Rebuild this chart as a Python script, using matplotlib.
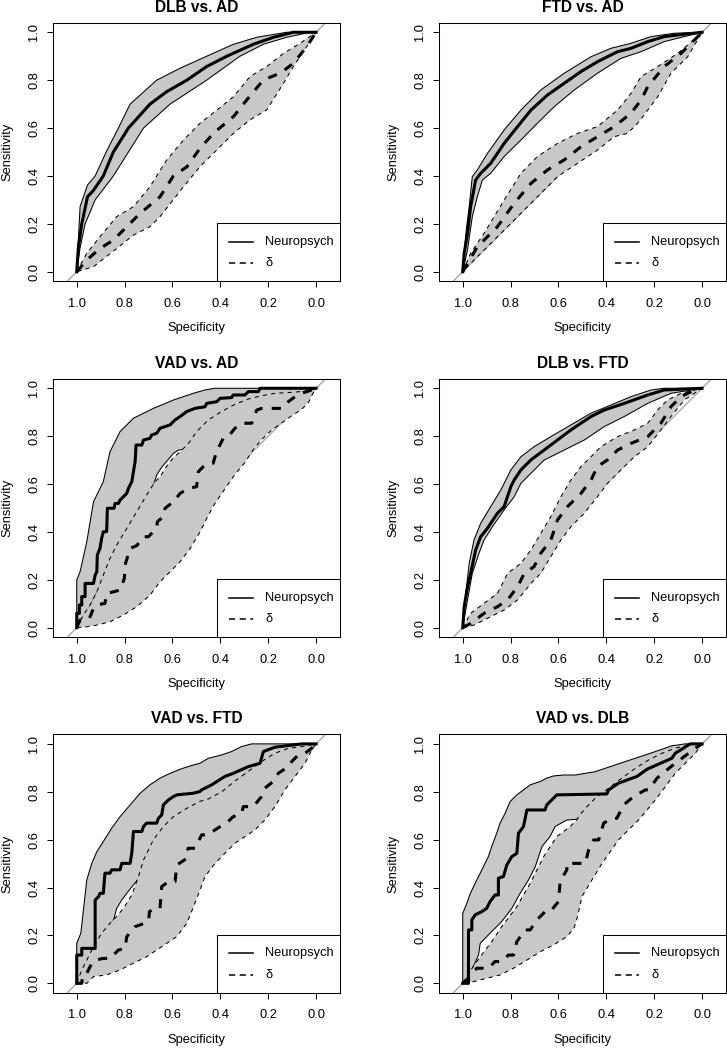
import numpy as np
import matplotlib.pyplot as plt
from matplotlib.patches import Polygon, Rectangle

plt.rcParams['font.family'] = ['Liberation Sans', 'DejaVu Sans']

# curves are (specificity, sensitivity) pairs
titles = ["DLB vs. AD", "FTD vs. AD", "VAD vs. AD", "DLB vs. FTD", "VAD vs. FTD", "VAD vs. DLB"]
legend_labels = ["Neuropsych", "\u03b4"]
tick_values = [1.0, 0.8, 0.6, 0.4, 0.2, 0.0]

# DLB vs. AD
dlb_ad_neuro = [(1.0, 0.0), (0.993, 0.104), (0.979, 0.20), (0.955, 0.313), (0.930, 0.34), (0.889, 0.40), (0.847, 0.50),
                (0.784, 0.60), (0.694, 0.70), (0.624, 0.752), (0.540, 0.80), (0.457, 0.857), (0.373, 0.90), (0.262, 0.95),
                (0.178, 0.979), (0.095, 1.0), (0.0, 1.0)]
dlb_ad_neuro_hi = [(1.0, 0.0), (0.986, 0.272), (0.955, 0.362), (0.923, 0.40), (0.877, 0.50), (0.826, 0.60), (0.777, 0.70),
                   (0.666, 0.80), (0.568, 0.85), (0.457, 0.90), (0.345, 0.95), (0.248, 0.979), (0.123, 1.0), (0.0, 1.0)]
dlb_ad_neuro_lo = [(1.0, 0.0), (0.986, 0.10), (0.965, 0.20), (0.923, 0.30), (0.847, 0.40), (0.784, 0.50), (0.721, 0.60),
                   (0.610, 0.70), (0.457, 0.80), (0.318, 0.90), (0.220, 0.95), (0.123, 0.979), (0.025, 1.0), (0.0, 1.0)]
dlb_ad_delta = [(1.0, 0.0), (0.958, 0.049), (0.903, 0.097), (0.847, 0.132), (0.791, 0.188), (0.735, 0.244), (0.652, 0.313),
                (0.596, 0.40), (0.540, 0.438), (0.485, 0.515), (0.429, 0.578), (0.345, 0.648), (0.290, 0.717), (0.220, 0.801),
                (0.150, 0.829), (0.095, 0.870), (0.039, 0.940), (0.0, 1.0)]
dlb_ad_delta_hi = [(1.0, 0.0), (0.958, 0.077), (0.903, 0.146), (0.833, 0.230), (0.763, 0.272), (0.694, 0.355), (0.624, 0.467),
                   (0.554, 0.550), (0.485, 0.620), (0.415, 0.675), (0.345, 0.731), (0.276, 0.815), (0.206, 0.857),
                   (0.136, 0.912), (0.067, 0.954), (0.0, 1.0)]
dlb_ad_delta_lo = [(1.0, 0.0), (0.930, 0.021), (0.833, 0.097), (0.763, 0.153), (0.694, 0.188), (0.652, 0.230), (0.554, 0.355),
                   (0.485, 0.439), (0.415, 0.508), (0.345, 0.578), (0.276, 0.634), (0.206, 0.676), (0.136, 0.787),
                   (0.095, 0.857), (0.039, 0.940), (0.0, 1.0)]

# FTD vs. AD
ftd_ad_neuro = [(1.0, 0.0), (0.994, 0.077), (0.980, 0.160), (0.967, 0.272), (0.946, 0.383), (0.925, 0.411), (0.883, 0.453),
                (0.827, 0.536), (0.771, 0.606), (0.715, 0.675), (0.646, 0.738), (0.576, 0.787), (0.506, 0.836), (0.437, 0.877),
                (0.353, 0.919), (0.297, 0.933), (0.227, 0.961), (0.158, 0.982), (0.074, 0.992), (0.0, 1.0)]
ftd_ad_neuro_hi = [(1.0, 0.0), (0.987, 0.160), (0.973, 0.272), (0.960, 0.397), (0.939, 0.425), (0.897, 0.494), (0.827, 0.592),
                   (0.757, 0.675), (0.674, 0.759), (0.576, 0.829), (0.464, 0.898), (0.381, 0.933), (0.297, 0.954),
                   (0.213, 0.982), (0.116, 0.996), (0.0, 1.0)]
ftd_ad_neuro_lo = [(1.0, 0.0), (0.980, 0.091), (0.960, 0.230), (0.939, 0.313), (0.918, 0.383), (0.883, 0.411), (0.827, 0.481),
                   (0.757, 0.550), (0.688, 0.620), (0.618, 0.689), (0.534, 0.759), (0.437, 0.829), (0.339, 0.891),
                   (0.255, 0.919), (0.158, 0.961), (0.074, 0.982), (0.0, 1.0)]
ftd_ad_delta = [(1.0, 0.0), (0.980, 0.035), (0.939, 0.104), (0.855, 0.188), (0.785, 0.286), (0.715, 0.369), (0.646, 0.425),
                (0.576, 0.467), (0.506, 0.522), (0.437, 0.564), (0.367, 0.606), (0.297, 0.662), (0.255, 0.717), (0.227, 0.773),
                (0.158, 0.857), (0.088, 0.912), (0.018, 0.982), (0.0, 1.0)]
ftd_ad_delta_hi = [(1.0, 0.0), (0.967, 0.077), (0.911, 0.160), (0.827, 0.299), (0.757, 0.411), (0.688, 0.481), (0.604, 0.536),
                   (0.520, 0.578), (0.437, 0.606), (0.353, 0.675), (0.297, 0.745), (0.255, 0.815), (0.185, 0.857),
                   (0.102, 0.912), (0.018, 0.982), (0.0, 1.0)]
ftd_ad_delta_lo = [(1.0, 0.0), (0.953, 0.049), (0.883, 0.118), (0.813, 0.188), (0.743, 0.258), (0.674, 0.327), (0.604, 0.397),
                   (0.520, 0.453), (0.437, 0.508), (0.367, 0.564), (0.311, 0.578), (0.269, 0.620), (0.227, 0.675),
                   (0.185, 0.731), (0.130, 0.829), (0.060, 0.898), (0.0, 1.0)]

# VAD vs. AD
vad_ad_neuro = [(1.0, 0.0), (1.0, 0.060), (0.989, 0.060), (0.989, 0.095), (0.979, 0.095), (0.979, 0.130), (0.965, 0.130),
                (0.965, 0.185), (0.930, 0.185), (0.923, 0.220), (0.916, 0.234), (0.914, 0.304), (0.903, 0.331), (0.896, 0.373),
                (0.889, 0.401), (0.875, 0.401), (0.872, 0.499), (0.844, 0.499), (0.840, 0.519), (0.826, 0.519), (0.819, 0.533),
                (0.791, 0.561), (0.784, 0.582), (0.770, 0.610), (0.756, 0.694), (0.752, 0.763), (0.728, 0.763), (0.721, 0.784),
                (0.694, 0.791), (0.687, 0.805), (0.666, 0.812), (0.652, 0.833), (0.610, 0.847), (0.589, 0.868), (0.568, 0.882),
                (0.540, 0.903), (0.506, 0.916), (0.464, 0.923), (0.457, 0.937), (0.415, 0.944), (0.401, 0.958), (0.353, 0.961),
                (0.346, 0.972), (0.297, 0.972), (0.283, 0.986), (0.241, 0.986), (0.234, 1.0), (0.0, 1.0)]
vad_ad_neuro_hi = [(1.0, 0.0), (1.0, 0.199), (0.986, 0.234), (0.958, 0.359), (0.930, 0.526), (0.889, 0.610), (0.861, 0.735),
                   (0.819, 0.819), (0.763, 0.875), (0.680, 0.916), (0.596, 0.951), (0.513, 0.979), (0.464, 0.993),
                   (0.422, 1.0), (0.0, 1.0)]
vad_ad_neuro_lo = [(1.0, 0.0), (0.95, 0.08), (0.90, 0.18), (0.85, 0.30), (0.80, 0.39), (0.75, 0.47), (0.70, 0.55), (0.68, 0.595),
                   (0.665, 0.64), (0.645, 0.67), (0.620, 0.70), (0.596, 0.728), (0.575, 0.742), (0.55, 0.745), (0.50, 0.80),
                   (0.45, 0.85), (0.35, 0.91), (0.25, 0.95), (0.15, 0.97), (0.05, 0.985), (0.0, 1.0)]
vad_ad_delta = [(1.0, 0.0), (0.986, 0.032), (0.947, 0.039), (0.930, 0.081), (0.916, 0.095), (0.882, 0.102), (0.875, 0.143),
                (0.819, 0.157), (0.801, 0.206), (0.798, 0.262), (0.777, 0.331), (0.749, 0.343), (0.721, 0.380), (0.701, 0.380),
                (0.666, 0.415), (0.663, 0.443), (0.638, 0.464), (0.631, 0.499), (0.596, 0.526), (0.568, 0.561), (0.533, 0.582),
                (0.499, 0.589), (0.492, 0.652), (0.464, 0.680), (0.430, 0.687), (0.416, 0.735), (0.388, 0.791), (0.367, 0.798),
                (0.339, 0.833), (0.311, 0.854), (0.269, 0.854), (0.248, 0.909), (0.228, 0.916), (0.144, 0.916), (0.116, 0.944),
                (0.088, 0.965), (0.060, 0.979), (0.018, 0.993), (0.0, 1.0)]
vad_ad_delta_hi = [(1.0, 0.0), (0.972, 0.053), (0.944, 0.095), (0.916, 0.150), (0.889, 0.220), (0.861, 0.290), (0.833, 0.345),
                   (0.791, 0.415), (0.749, 0.485), (0.708, 0.554), (0.673, 0.610), (0.652, 0.630), (0.624, 0.675),
                   (0.596, 0.710), (0.568, 0.735), (0.533, 0.770), (0.499, 0.819), (0.450, 0.868), (0.395, 0.903),
                   (0.339, 0.933), (0.283, 0.955), (0.228, 0.969), (0.172, 0.979), (0.102, 0.983), (0.032, 0.989), (0.0, 1.0)]
vad_ad_delta_lo = [(1.0, 0.0), (0.958, 0.004), (0.916, 0.011), (0.861, 0.025), (0.805, 0.053), (0.749, 0.088), (0.694, 0.136),
                   (0.652, 0.192), (0.610, 0.234), (0.568, 0.276), (0.526, 0.331), (0.485, 0.40), (0.450, 0.47), (0.422, 0.52),
                   (0.381, 0.58), (0.339, 0.64), (0.297, 0.69), (0.262, 0.745), (0.228, 0.785), (0.186, 0.825),
                   (0.144, 0.855), (0.102, 0.885), (0.060, 0.912), (0.032, 0.94), (0.018, 0.97), (0.0, 1.0)]

# DLB vs. FTD
dlb_ftd_neuro = [(1.0, 0.0), (0.994, 0.088), (0.980, 0.171), (0.967, 0.227), (0.946, 0.325), (0.925, 0.380), (0.897, 0.415),
                 (0.855, 0.478), (0.827, 0.506), (0.799, 0.589), (0.785, 0.617), (0.757, 0.659), (0.715, 0.701), (0.660, 0.742),
                 (0.604, 0.784), (0.548, 0.826), (0.464, 0.882), (0.409, 0.909), (0.325, 0.937), (0.227, 0.972),
                 (0.158, 0.993), (0.0, 1.0)]
dlb_ftd_neuro_hi = [(1.0, 0.0), (0.987, 0.143), (0.973, 0.269), (0.953, 0.366), (0.925, 0.436), (0.883, 0.506), (0.841, 0.575),
                    (0.799, 0.659), (0.757, 0.714), (0.702, 0.756), (0.632, 0.798), (0.548, 0.847), (0.464, 0.896),
                    (0.381, 0.930), (0.297, 0.965), (0.213, 0.993), (0.158, 1.0), (0.0, 1.0)]
dlb_ftd_neuro_lo = [(1.0, 0.0), (0.980, 0.116), (0.960, 0.227), (0.932, 0.311), (0.911, 0.366), (0.876, 0.422), (0.827, 0.492),
                    (0.785, 0.547), (0.757, 0.603), (0.715, 0.645), (0.660, 0.700), (0.576, 0.742), (0.492, 0.784),
                    (0.409, 0.840), (0.325, 0.882), (0.227, 0.937), (0.130, 0.979), (0.0, 1.0)]
dlb_ftd_delta = [(1.0, 0.0), (0.967, 0.018), (0.911, 0.060), (0.855, 0.088), (0.813, 0.116), (0.771, 0.171), (0.743, 0.227),
                 (0.702, 0.255), (0.674, 0.311), (0.632, 0.366), (0.604, 0.450), (0.562, 0.506), (0.506, 0.561), (0.464, 0.617),
                 (0.437, 0.673), (0.395, 0.701), (0.353, 0.742), (0.297, 0.770), (0.227, 0.798), (0.172, 0.854),
                 (0.130, 0.923), (0.088, 0.965), (0.032, 0.993), (0.0, 1.0)]
dlb_ftd_delta_hi = [(1.0, 0.0), (0.967, 0.060), (0.911, 0.102), (0.855, 0.143), (0.813, 0.227), (0.757, 0.269), (0.715, 0.325),
                    (0.674, 0.394), (0.632, 0.464), (0.590, 0.547), (0.548, 0.617), (0.506, 0.673), (0.464, 0.714),
                    (0.423, 0.756), (0.353, 0.798), (0.283, 0.826), (0.227, 0.854), (0.186, 0.909), (0.144, 0.951),
                    (0.088, 0.979), (0.0, 1.0)]
dlb_ftd_delta_lo = [(1.0, 0.0), (0.953, 0.011), (0.883, 0.046), (0.827, 0.074), (0.771, 0.116), (0.715, 0.185), (0.674, 0.227),
                    (0.632, 0.297), (0.590, 0.366), (0.548, 0.422), (0.492, 0.478), (0.437, 0.547), (0.395, 0.603),
                    (0.339, 0.659), (0.283, 0.714), (0.227, 0.756), (0.172, 0.826), (0.130, 0.882), (0.074, 0.951), (0.0, 1.0)]

# VAD vs. FTD
vad_ftd_neuro = [(1.0, 0.0), (1.0, 0.118), (0.979, 0.118), (0.979, 0.146), (0.923, 0.146), (0.923, 0.348), (0.909, 0.362),
                 (0.903, 0.376), (0.889, 0.376), (0.882, 0.460), (0.861, 0.460), (0.854, 0.474), (0.819, 0.474), (0.812, 0.501),
                 (0.777, 0.501), (0.770, 0.543), (0.763, 0.634), (0.728, 0.634), (0.721, 0.655), (0.708, 0.669), (0.666, 0.669),
                 (0.659, 0.689), (0.645, 0.703), (0.638, 0.745), (0.617, 0.766), (0.596, 0.780), (0.582, 0.787), (0.513, 0.794),
                 (0.485, 0.801), (0.478, 0.808), (0.436, 0.829), (0.381, 0.864), (0.346, 0.877), (0.283, 0.905),
                 (0.234, 0.919), (0.220, 0.968), (0.172, 0.986), (0.116, 0.993), (0.060, 1.0), (0.0, 1.0)]
vad_ftd_neuro_hi = [(1.0, 0.0), (1.0, 0.167), (0.983, 0.209), (0.969, 0.334), (0.958, 0.432), (0.937, 0.501), (0.916, 0.550),
                    (0.889, 0.592), (0.854, 0.648), (0.819, 0.696), (0.777, 0.745), (0.735, 0.794), (0.694, 0.829),
                    (0.652, 0.857), (0.610, 0.877), (0.568, 0.894), (0.526, 0.908), (0.485, 0.919), (0.450, 0.940),
                    (0.394, 0.954), (0.353, 0.968), (0.311, 0.989), (0.269, 1.0), (0.0, 1.0)]
vad_ftd_neuro_lo = [(1.0, 0.0), (0.97, 0.05), (0.93, 0.13), (0.89, 0.19), (0.86, 0.24), (0.844, 0.272), (0.833, 0.313),
                    (0.812, 0.348), (0.784, 0.385), (0.756, 0.42), (0.738, 0.44), (0.70, 0.53), (0.65, 0.63), (0.60, 0.68),
                    (0.50, 0.74), (0.40, 0.79), (0.30, 0.87), (0.20, 0.93), (0.10, 0.97), (0.0, 1.0)]
vad_ftd_delta = [(1.0, 0.0), (0.979, 0.0), (0.975, 0.035), (0.958, 0.042), (0.937, 0.084), (0.923, 0.097), (0.889, 0.104),
                 (0.861, 0.104), (0.826, 0.139), (0.798, 0.146), (0.791, 0.195), (0.756, 0.237), (0.735, 0.244), (0.700, 0.258),
                 (0.696, 0.300), (0.673, 0.313), (0.652, 0.313), (0.645, 0.404), (0.617, 0.425), (0.589, 0.425), (0.582, 0.494),
                 (0.540, 0.522), (0.535, 0.564), (0.506, 0.564), (0.478, 0.620), (0.450, 0.620), (0.422, 0.641), (0.367, 0.676),
                 (0.346, 0.696), (0.311, 0.710), (0.304, 0.738), (0.262, 0.738), (0.228, 0.780), (0.214, 0.815),
                 (0.179, 0.843), (0.158, 0.877), (0.116, 0.905), (0.102, 0.926), (0.074, 0.954), (0.046, 0.961),
                 (0.018, 0.982), (0.0, 1.0)]
vad_ftd_delta_hi = [(1.0, 0.0), (0.979, 0.056), (0.958, 0.097), (0.930, 0.153), (0.896, 0.209), (0.861, 0.251), (0.840, 0.272),
                    (0.805, 0.313), (0.770, 0.369), (0.742, 0.446), (0.721, 0.515), (0.680, 0.599), (0.638, 0.655),
                    (0.596, 0.696), (0.540, 0.731), (0.485, 0.760), (0.450, 0.770), (0.394, 0.800), (0.339, 0.845),
                    (0.283, 0.885), (0.228, 0.926), (0.172, 0.961), (0.116, 0.981), (0.046, 0.991), (0.0, 1.0)]
vad_ftd_delta_lo = [(1.0, 0.0), (0.958, 0.0), (0.930, 0.028), (0.875, 0.035), (0.819, 0.056), (0.763, 0.084), (0.708, 0.111),
                    (0.666, 0.139), (0.624, 0.167), (0.582, 0.195), (0.540, 0.251), (0.520, 0.30), (0.485, 0.39),
                    (0.464, 0.446), (0.422, 0.501), (0.381, 0.543), (0.339, 0.585), (0.297, 0.613), (0.255, 0.641),
                    (0.214, 0.682), (0.172, 0.738), (0.130, 0.808), (0.088, 0.864), (0.046, 0.919), (0.018, 0.975), (0.0, 1.0)]

# VAD vs. DLB
vad_dlb_neuro = [(1.0, 0.0), (0.976, 0.0), (0.976, 0.223), (0.962, 0.223), (0.962, 0.265), (0.948, 0.286), (0.921, 0.299),
                 (0.900, 0.313), (0.886, 0.341), (0.865, 0.369), (0.851, 0.369), (0.851, 0.439), (0.830, 0.446), (0.816, 0.494),
                 (0.795, 0.529), (0.774, 0.543), (0.767, 0.627), (0.746, 0.655), (0.732, 0.724), (0.656, 0.724), (0.649, 0.745),
                 (0.628, 0.766), (0.607, 0.787), (0.398, 0.791), (0.390, 0.808), (0.349, 0.836), (0.272, 0.864),
                 (0.230, 0.894), (0.167, 0.922), (0.126, 0.940), (0.112, 0.961), (0.084, 0.978), (0.063, 0.992),
                 (0.049, 1.0), (0.0, 1.0)]
vad_dlb_neuro_hi = [(1.0, 0.0), (1.0, 0.292), (0.983, 0.334), (0.968, 0.376), (0.948, 0.418), (0.927, 0.460), (0.893, 0.529),
                    (0.879, 0.571), (0.858, 0.627), (0.844, 0.669), (0.823, 0.710), (0.802, 0.759), (0.774, 0.787),
                    (0.746, 0.808), (0.718, 0.829), (0.676, 0.843), (0.649, 0.857), (0.621, 0.866), (0.579, 0.870),
                    (0.530, 0.870), (0.446, 0.884), (0.363, 0.912), (0.279, 0.940), (0.195, 0.968), (0.126, 0.992),
                    (0.070, 1.0), (0.0, 1.0)]
vad_dlb_neuro_lo = [(1.0, 0.0), (0.965, 0.05), (0.934, 0.118), (0.927, 0.167), (0.886, 0.209), (0.837, 0.258), (0.795, 0.313),
                    (0.760, 0.376), (0.725, 0.432), (0.697, 0.487), (0.669, 0.571), (0.635, 0.613), (0.614, 0.655),
                    (0.565, 0.682), (0.523, 0.685), (0.50, 0.70), (0.45, 0.75), (0.35, 0.82), (0.25, 0.89), (0.15, 0.95),
                    (0.05, 0.99), (0.0, 1.0)]
vad_dlb_delta = [(1.0, 0.0), (0.976, 0.021), (0.962, 0.042), (0.941, 0.063), (0.893, 0.063), (0.865, 0.091), (0.837, 0.091),
                 (0.809, 0.118), (0.788, 0.118), (0.774, 0.174), (0.739, 0.223), (0.718, 0.223), (0.690, 0.265), (0.656, 0.299),
                 (0.635, 0.299), (0.600, 0.341), (0.593, 0.425), (0.565, 0.474), (0.565, 0.501), (0.488, 0.501), (0.474, 0.557),
                 (0.453, 0.599), (0.432, 0.599), (0.411, 0.669), (0.377, 0.689), (0.356, 0.689), (0.328, 0.745),
                 (0.286, 0.780), (0.237, 0.808), (0.223, 0.808), (0.188, 0.857), (0.147, 0.891), (0.112, 0.919),
                 (0.056, 0.961), (0.028, 0.982), (0.0, 1.0)]
vad_dlb_delta_hi = [(1.0, 0.0), (0.970, 0.05), (0.927, 0.111), (0.879, 0.174), (0.837, 0.237), (0.774, 0.320), (0.718, 0.418),
                    (0.662, 0.529), (0.607, 0.613), (0.551, 0.655), (0.523, 0.682), (0.516, 0.696), (0.488, 0.731),
                    (0.446, 0.773), (0.390, 0.815), (0.335, 0.857), (0.279, 0.898), (0.223, 0.933), (0.167, 0.961),
                    (0.112, 0.982), (0.056, 0.996), (0.0, 1.0)]
vad_dlb_delta_lo = [(1.0, 0.0), (0.955, 0.007), (0.900, 0.021), (0.844, 0.035), (0.788, 0.063), (0.732, 0.097), (0.676, 0.132),
                    (0.621, 0.160), (0.565, 0.195), (0.535, 0.23), (0.520, 0.28), (0.502, 0.362), (0.460, 0.432),
                    (0.418, 0.501), (0.349, 0.599), (0.307, 0.641), (0.265, 0.682), (0.195, 0.766), (0.153, 0.822),
                    (0.112, 0.877), (0.070, 0.919), (0.028, 0.961), (0.0, 1.0)]

panels = [
    (dlb_ad_neuro, dlb_ad_neuro_hi, dlb_ad_neuro_lo, dlb_ad_delta, dlb_ad_delta_hi, dlb_ad_delta_lo),
    (ftd_ad_neuro, ftd_ad_neuro_hi, ftd_ad_neuro_lo, ftd_ad_delta, ftd_ad_delta_hi, ftd_ad_delta_lo),
    (vad_ad_neuro, vad_ad_neuro_hi, vad_ad_neuro_lo, vad_ad_delta, vad_ad_delta_hi, vad_ad_delta_lo),
    (dlb_ftd_neuro, dlb_ftd_neuro_hi, dlb_ftd_neuro_lo, dlb_ftd_delta, dlb_ftd_delta_hi, dlb_ftd_delta_lo),
    (vad_ftd_neuro, vad_ftd_neuro_hi, vad_ftd_neuro_lo, vad_ftd_delta, vad_ftd_delta_hi, vad_ftd_delta_lo),
    (vad_dlb_neuro, vad_dlb_neuro_hi, vad_dlb_neuro_lo, vad_dlb_delta, vad_dlb_delta_hi, vad_dlb_delta_lo),
]

BAND = '#c8c8c8'
DIAG = '#a8a8a8'
FS = 9.3
THIN_DASH = (0, (4, 4))
THICK_DASH = (0, (3, 3))

W, H = 727, 1048
ax_w, ax_h = 287.2, 258.6
lefts = [52.8, 438.8]
bottoms = [281.3, 637.3, 992.9]


def band(ax, hi, lo, ls):
    pts = np.array(hi + lo[::-1])
    ax.add_patch(Polygon(pts, closed=True, facecolor=BAND, edgecolor='black',
                         lw=0.75, linestyle=ls, zorder=2))


def curve(ax, pts, ls):
    pts = np.array(pts)
    ax.plot(pts[:, 0], pts[:, 1], color='black', lw=2.2, linestyle=ls,
            solid_joinstyle='round', dash_capstyle='butt', zorder=4)


def draw_panel(ax, title, neuro, neuro_hi, neuro_lo, delta, delta_hi, delta_lo):
    ax.axline((1, 0), (0, 1), color=DIAG, lw=1.0, zorder=1)
    band(ax, neuro_hi, neuro_lo, '-')
    band(ax, delta_hi, delta_lo, THIN_DASH)
    curve(ax, neuro, '-')
    curve(ax, delta, THICK_DASH)

    ax.set_xlim(1.1, -0.1)
    ax.set_ylim(-0.04, 1.04)
    ax.set_xticks(tick_values)
    ax.set_xticklabels(["%.1f" % v for v in tick_values], fontsize=FS)
    ax.set_yticks(tick_values)
    ax.set_yticklabels(["%.1f" % v for v in tick_values], fontsize=FS, rotation=90, va='center')
    ax.tick_params(axis='both', length=4.3, width=0.75, direction='out')
    ax.tick_params(axis='x', pad=7.6)
    ax.tick_params(axis='y', pad=4.7)
    for s in ax.spines.values():
        s.set_linewidth(0.75)

    ax.set_xlabel("Specificity", fontsize=FS)
    ax.xaxis.label.set_va('center')
    ax.xaxis.set_label_coords(0.5, -47 / ax_h)
    ax.set_ylabel("Sensitivity", fontsize=FS)
    ax.yaxis.label.set_va('center')
    ax.yaxis.set_label_coords(-45 / ax_w, 0.5)
    ax.text(0.5, 1 + 15.5 / ax_h, title, transform=ax.transAxes, ha='center', va='center',
            fontsize=11.2, fontweight='bold')

    # legend box in the lower right corner, drawn by hand like R's legend()
    ax.add_patch(Rectangle((0.573, 0), 1 - 0.573, 0.224, transform=ax.transAxes,
                           facecolor='white', edgecolor='black', lw=0.75, zorder=5))
    for yy, ls, lab in zip([0.153, 0.070], ['-', (0, (4, 3))], legend_labels):
        ax.plot([0.612, 0.698], [yy, yy], transform=ax.transAxes, color='black',
                lw=1.1, linestyle=ls, zorder=6)
        ax.text(0.739, yy, lab, transform=ax.transAxes, ha='left', va='center',
                fontsize=FS, zorder=6)


fig = plt.figure(figsize=(W / 100, H / 100), dpi=100)
for i, (title, data) in enumerate(zip(titles, panels)):
    r, c = divmod(i, 2)
    ax = fig.add_axes([lefts[c] / W, 1 - bottoms[r] / H, ax_w / W, ax_h / H])
    draw_panel(ax, title, *data)

fig.savefig("out.png", dpi=100)
